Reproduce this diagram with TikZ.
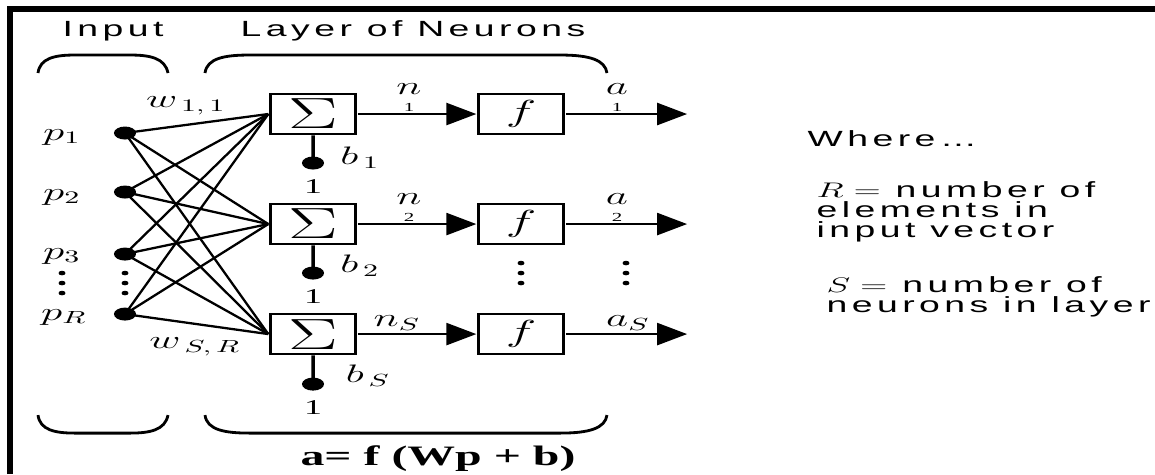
\documentclass[tikz,border=0pt]{standalone}
\usepackage{fontspec}
\setmainfont{Liberation Serif}
\newfontfamily\helv[LetterSpace=12]{Liberation Sans}
\usetikzlibrary{arrows.meta}

\begin{document}
\begin{tikzpicture}[
    x=0.011765cm, y=-0.02cm, xscale=1.7, transform shape,
    sum/.style={rectangle, draw, line width=1.5pt, minimum width=1cm, minimum height=0.8cm, inner sep=0pt, font=\fontsize{23}{23}\selectfont},
    act/.style={rectangle, draw, line width=1.5pt, minimum width=1cm, minimum height=0.8cm, inner sep=0pt, font=\fontsize{17}{17}\selectfont},
    dot/.style={circle, fill, inner sep=0pt, minimum size=0.26cm},
    wire/.style={line width=1.3pt},
    arrow/.style={line width=1.3pt, -{Triangle[length=17pt,width=12.5pt]}},
    brace/.style={line width=1.6pt},
    title/.style={font=\helv\fontsize{12.5}{11.5}\selectfont},
    lbl/.style={font=\fontsize{14}{14}\selectfont, inner sep=0pt}
]
    \useasboundingbox (0,0) rectangle (1155,474);
    % Frame
    \draw[line width=3pt] (10,474) -- (10,9) -- (1155,9);

    % Titles
    \node[title] (tin) at (113,31) {Input};
    \node[title] (tlay) at (413,31) {Layer of Neurons};

    % Braces
    \draw[brace] (38,73) .. controls (40,58) and (55,55) .. (75,55) -- (130,55) .. controls (150,55) and (165,58) .. (168,73);
    \draw[brace] (205,73) .. controls (207,58) and (225,55) .. (250,55) -- (560,55) .. controls (590,55) and (605,60) .. (607,73);
    \draw[brace] (38,415) .. controls (40,430) and (55,433) .. (75,433) -- (130,433) .. controls (150,433) and (165,430) .. (168,415);
    \draw[brace] (205,415) .. controls (207,430) and (225,433) .. (250,433) -- (560,433) .. controls (590,433) and (605,428) .. (607,415);

    % Inputs
    \node[dot] (in1) at (125,133) {};
    \node[dot] (in2) at (125,192) {};
    \node[dot] (in3) at (125,254) {};
    \node[dot] (in4) at (125,314) {};
    \node[lbl] (lp1) at (62,137) {$p_1$};
    \node[lbl] (lp2) at (62,197) {$p_2$};
    \node[lbl] (lp3) at (62,256) {$p_3$};
    \node[lbl] (lp4) at (64,317) {$p_R$};

    % Summing junctions
    \node[sum] (s1) at (313,114) {$\Sigma$};
    \node[sum] (s2) at (313,224) {$\Sigma$};
    \node[sum] (s3) at (313,334) {$\Sigma$};

    % Transfer functions
    \node[act] (f1) at (521,114) {$f$};
    \node[act] (f2) at (521,224) {$f$};
    \node[act] (f3) at (521,334) {$f$};

    % Weights
    \foreach \i in {1,...,4}
        \foreach \j in {1,2,3}
            \draw[wire] (in\i.center) -- (s\j.west);
    \node[lbl] (w11) at (186,106) {$w_{\,1,\,1}$};
    \node[lbl] (wsr) at (195,347) {$w_{\,S,\,R}$};

    % Biases
    \foreach \j/\y in {1/163,2/273,3/384}{
        \node[dot] (b\j) at (313,\y) {};
        \draw[line width=2pt] (s\j) -- (b\j.center);
        \node[lbl, font=\fontsize{12}{12}\selectfont] (one\j) at (313,\y+23) {1};
    }
    \node[lbl] (lb1) at (360,158) {$b_{\,1}$};
    \node[lbl] (lb2) at (360,266) {$b_{\,2}$};
    \node[lbl] (lb3) at (368,376) {$b_{\,S}$};

    % Net inputs and outputs
    \foreach \j/\y in {1/114,2/224,3/334}{
        \draw[arrow] (s\j) -- (f\j);
        \coordinate (o\j) at (687,\y);
        \draw[arrow] (f\j) -- (o\j);
    }
    \node[lbl, align=center, anchor=south] (n1) at (409,112) {$n$\\[-4pt]{\fontsize{7}{7}\selectfont 1}};
    \node[lbl, align=center, anchor=south] (n2) at (409,222) {$n$\\[-4pt]{\fontsize{7}{7}\selectfont 2}};
    \node[lbl, anchor=south] (n3) at (397,331) {$n_S$};
    \node[lbl, align=center, anchor=south] (a1) at (617,112) {$a$\\[-4pt]{\fontsize{7}{7}\selectfont 1}};
    \node[lbl, align=center, anchor=south] (a2) at (617,222) {$a$\\[-4pt]{\fontsize{7}{7}\selectfont 2}};
    \node[lbl, anchor=south] (a3) at (628,331) {$a_S$};

    % Ellipsis dots
    \foreach \x/\y in {62/273,125/273,521/263,626/263}
        \foreach \k in {0,10,20}
            \fill (\x,\y+\k) ellipse[x radius=3.5, y radius=2.3];

    % Formula
    \node[font=\fontsize{16}{16}\selectfont\bfseries] (eq) at (438,458) {a= f (Wp + b)};

    % Legend
    \node[title, anchor=west] (where) at (797,139) {Where\ldots};
    \node[title, align=left, anchor=west] (rdef) at (806,212) {$R=$ number of\\elements in\\input vector};
    \node[title, align=left, anchor=west] (sdef) at (816,297) {$S=$ number of\\neurons in layer};
\end{tikzpicture}
\end{document}
